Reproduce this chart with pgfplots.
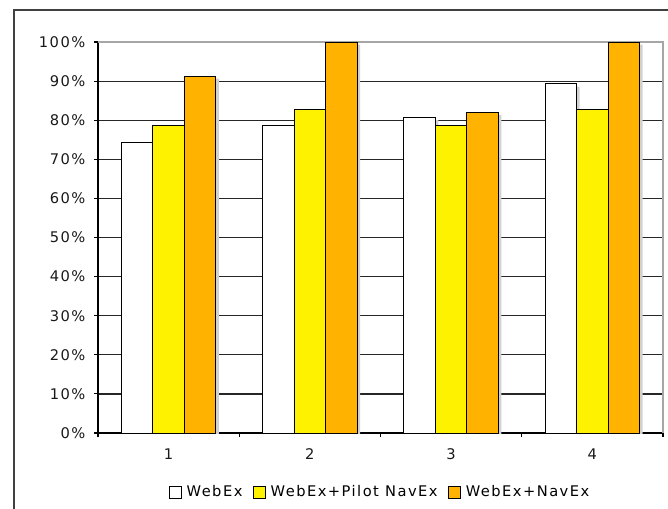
\documentclass[border=0pt]{standalone}
\usepackage{fontspec}
\setmainfont{DejaVu Sans}[LetterSpace=10]
\usepackage{pgfplots}
\pgfplotsset{compat=1.18}
\definecolor{cyel}{HTML}{FFF200}
\definecolor{corg}{HTML}{FFB300}
\newcommand\cfont{\fontsize{11}{13}\selectfont}
\begin{document}
\begin{tikzpicture}
\begin{axis}[
  at={(0,0)}, anchor=south west,
  scale only axis, width=423.75pt, height=293.25pt,
  xmin=0.5, xmax=4.5, ymin=0, ymax=100,
  ybar=0pt, bar width=0.2234,
  axis lines*=left,
  axis line style={black, line width=0.8pt, -},
  xtick={1,2,3,4},
  minor xtick={0.5,1.5,2.5,3.5,4.5},
  major x tick style={draw=none},
  minor tick length=3pt,
  major tick length=3pt,
  tick align=outside,
  tick style={black, line width=0.8pt},
  ytick={0,10,...,100},
  ymajorgrids,
  major grid style={black!85, line width=0.9pt},
  yticklabel={\pgfmathprintnumber{\tick}\%},
  /pgf/number format/assume math mode=true,
  ticklabel style={font=\cfont, text=black!90},
  yticklabel style={xshift=-3pt},
  xticklabel style={yshift=-5pt},
  clip mode=individual,
  legend style={at={(0.5,0)}, anchor=center, yshift=-44.25pt, draw=none, fill=none,
    font=\cfont, legend columns=3,
    /tikz/every odd column/.append style={column sep=1.5pt},
    /tikz/every even column/.append style={column sep=6pt}},
  legend cell align=left,
]
\draw[black!35, line width=0.8pt] (rel axis cs:0,1) -- (rel axis cs:1,1) -- (rel axis cs:1,0);
\addlegendimage{legend image code/.code={\draw[fill=white,draw=black,line width=0.7pt] (0pt,-4.5pt) rectangle (9pt,4.5pt);}}
\addlegendimage{legend image code/.code={\draw[fill=cyel,draw=black,line width=0.7pt] (0pt,-4.5pt) rectangle (9pt,4.5pt);}}
\addlegendimage{legend image code/.code={\draw[fill=corg,draw=black,line width=0.7pt] (0pt,-4.5pt) rectangle (9pt,4.5pt);}}
\addplot[forget plot, bar shift=-0.2234, fill=white, draw=black, line width=0.7pt,
  preaction={fill=black!18, draw=none, transform canvas={xshift=2.2pt, yshift=-2pt}}]
  coordinates {(1,74.2) (2,78.6) (3,80.7) (4,89.3)};
\addplot[forget plot, bar shift=0, fill=cyel, draw=black, line width=0.7pt,
  preaction={fill=black!18, draw=none, transform canvas={xshift=2.2pt, yshift=-2pt}}]
  coordinates {(1,78.6) (2,82.7) (3,78.6) (4,82.7)};
\addplot[forget plot, bar shift=0.2234, fill=corg, draw=black, line width=0.7pt,
  preaction={fill=black!18, draw=none, transform canvas={xshift=2.2pt, yshift=-2pt}}]
  coordinates {(1,91.3) (2,100) (3,82.0) (4,100)};
\legend{WebEx, WebEx+Pilot NavEx, WebEx+NavEx}
\end{axis}
\draw[black!75, line width=0.8pt] (-63pt,-200pt) -- (-63pt,317.25pt) -- (600pt,317.25pt);
\pgfresetboundingbox
\useasboundingbox (-73.5pt,-56.25pt) rectangle (427.5pt,324.75pt);
\end{tikzpicture}
\end{document}
